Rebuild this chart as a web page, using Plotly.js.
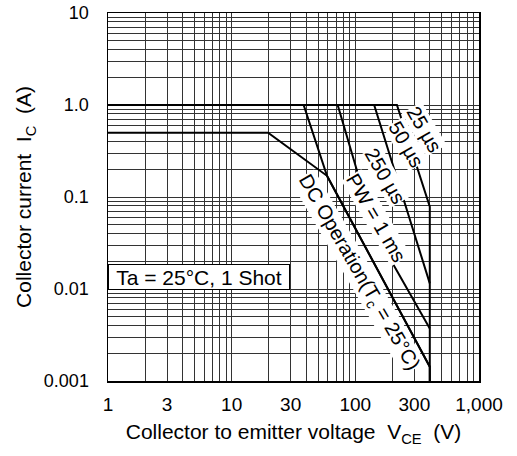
<!DOCTYPE html>
<html><head><meta charset="utf-8">
<script src="https://cdn.plot.ly/plotly-3.0.1.min.js"></script>
<style>html,body{margin:0;padding:0;background:#fff}#chart{width:517px;height:456px}</style>
</head><body><div id="chart"></div>
<script>
// Safe operating area curves (VCE in V, IC in A)
const dcV   = [1, 19.7, 59, 400, 400];
const dcI   = [0.5, 0.5, 0.17, 0.00143, 0.001];
const ms1V  = [1, 38.2, 59, 400];
const ms1I  = [1, 1, 0.17, 0.00143];
const us250V = [1, 72, 145, 400];
const us250I = [1, 1, 0.0407, 0.00373];
const us50V = [1, 142, 400];
const us50I = [1, 1, 0.0115];
const us25V = [1, 217, 400, 400];
const us25I = [1, 1, 0.0787, 0.001];

const xTickVals = [1, 3, 10, 30, 100, 300, 1000];
const xTickText = ['1', '3', '10', '30', '100', '300', '1,000'];
const yTickVals = [0.001, 0.01, 0.1, 1, 10];
const yTickText = ['0.001', '0.01', '0.1', '1.0', '10'];

const curveLabels = ['25 µs', '50 µs', '250 µs', 'PW = 1 ms', 'DC Operation(T<sub>c</sub> = 25°C)'];
const labelX = [2.557, 2.411, 2.241, 2.169, 2.023];   // log10 positions
const labelY = [-0.259, -0.422, -0.771, -1.228, -1.826];

// gridlines at every 1..9 x decade
function gridVals(d0, d1) {
  const v = [];
  for (let d = d0; d < d1; d++) for (let k = 1; k < 10; k++) v.push(+(k * Math.pow(10, d)).toPrecision(3));
  v.push(Math.pow(10, d1));
  return v;
}
function labelsFor(vals, tv, tt) {
  return vals.map(v => { const i = tv.findIndex(t => Math.abs(t - v) / t < 1e-6); return i >= 0 ? tt[i] : ''; });
}
const xg = gridVals(0, 3), yg = gridVals(-3, 1);

const line = {color: '#000', width: 2};
const traces = [
  {x: dcV, y: dcI}, {x: ms1V, y: ms1I}, {x: us250V, y: us250I}, {x: us50V, y: us50I}, {x: us25V, y: us25I}
].map(t => Object.assign(t, {type: 'scatter', mode: 'lines', line: line, hoverinfo: 'skip', showlegend: false}));

const font = {family: 'Arial, "Liberation Sans", sans-serif', color: '#000'};
const annotations = curveLabels.map((t, i) => ({
  x: labelX[i], y: labelY[i], xref: 'x', yref: 'y', text: t, showarrow: false,
  textangle: 60, bgcolor: '#fff', borderpad: 0,
  font: Object.assign({}, font, {size: 20})
}));
annotations.push({
  x: 0.739, y: -1.873, xref: 'x', yref: 'y', text: 'Ta = 25°C, 1 Shot', showarrow: false,
  bgcolor: '#fff', bordercolor: '#000', borderwidth: 1, borderpad: 0, width: 180, height: 24,
  font: Object.assign({}, font, {size: 21})
});

const layout = {
  width: 517, height: 456,
  margin: {l: 107.5, r: 38, t: 13.3, b: 75},
  paper_bgcolor: '#fff', plot_bgcolor: '#fff',
  font: Object.assign({}, font, {size: 18}),
  xaxis: {
    type: 'log', range: [0, 3], tickvals: xg, ticktext: labelsFor(xg, xTickVals, xTickText),
    tickangle: 0, automargin: false,
    showgrid: true, gridcolor: '#333', gridwidth: 1, ticks: '', ticklabelstandoff: 6,
    showline: true, linecolor: '#000', linewidth: 1.5, mirror: true, zeroline: false,
    tickfont: {size: 19},
    title: {text: 'Collector to emitter voltage  V<sub>CE</sub>  (V)', font: {size: 21}, standoff: 10}
  },
  yaxis: {
    type: 'log', range: [-3, 1], tickvals: yg, ticktext: labelsFor(yg, yTickVals, yTickText),
    tickangle: 0, automargin: false,
    showgrid: true, gridcolor: '#333', gridwidth: 1, ticks: '', ticklabelstandoff: 14,
    showline: true, linecolor: '#000', linewidth: 1.5, mirror: true, zeroline: false,
    tickfont: {size: 18},
    title: {text: 'Collector current  I<sub>C</sub>  (A)', font: {size: 21}, standoff: 6}
  },
  annotations: annotations
};
Plotly.newPlot('chart', traces, layout, {displayModeBar: false, staticPlot: true});
</script></body></html>
